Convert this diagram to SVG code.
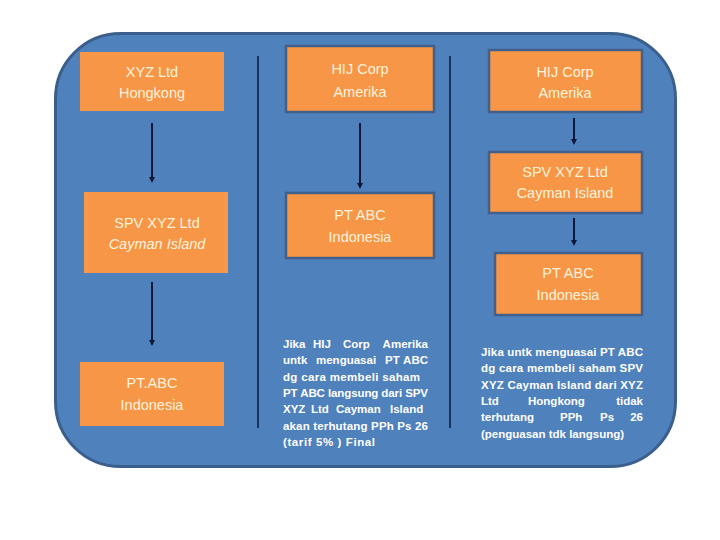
<svg xmlns="http://www.w3.org/2000/svg" width="720" height="540" viewBox="0 0 720 540">
<defs>
<style>
.bg{fill:#4f81bd;stroke:#3b5f8c;stroke-width:3}
.box{fill:#f79646}
.bb{fill:#f79646;stroke:#41618c;stroke-width:2.5}
.lbl{font-family:"Liberation Sans",Arial,sans-serif;font-size:14.5px;fill:#fdf3dc;text-anchor:middle}
.par{font-family:"Liberation Sans",Arial,sans-serif;font-size:11.5px;font-weight:bold;fill:#ffffff}
.con{stroke:#0d1838;stroke-width:2;fill:none}
.sep{stroke:#0d1838;stroke-width:1.5;fill:none}
</style>
<marker id="ah" viewBox="0 0 6 6" refX="3" refY="3" markerWidth="3" markerHeight="3" orient="auto">
<path d="M0,0 L6,3 L0,6 z" fill="#0d1838"/>
</marker>
</defs>
<rect width="720" height="540" fill="#ffffff"/>
<rect class="bg" x="55.5" y="33.5" width="620" height="433" rx="65" ry="65"/>

<g id="connectors">
<line class="sep" x1="258" y1="56" x2="258" y2="428"/>
<line class="sep" x1="450" y1="56" x2="450" y2="428"/>
<line class="con" x1="152" y1="123" x2="152" y2="180" marker-end="url(#ah)"/>
<line class="con" x1="152" y1="282" x2="152" y2="343" marker-end="url(#ah)"/>
<line class="con" x1="360" y1="123" x2="360" y2="186" marker-end="url(#ah)"/>
<line class="con" x1="574" y1="118" x2="574" y2="142" marker-end="url(#ah)"/>
<line class="con" x1="574" y1="218" x2="574" y2="243" marker-end="url(#ah)"/>
</g>

<g id="n-xyz-hk">
<rect class="box" x="80" y="52" width="144" height="59"/>
<text class="lbl" x="152" y="77">XYZ Ltd</text>
<text class="lbl" x="152" y="98">Hongkong</text>
</g>
<g id="n-spv-left">
<rect class="box" x="84" y="192" width="144" height="81"/>
<text class="lbl" x="157" y="228">SPV XYZ Ltd</text>
<text class="lbl" x="157" y="249" font-style="italic">Cayman Island</text>
</g>
<g id="n-ptabc-left">
<rect class="box" x="80" y="362" width="144" height="64"/>
<text class="lbl" x="152" y="388">PT.ABC</text>
<text class="lbl" x="152" y="410">Indonesia</text>
</g>

<g id="n-hij-mid">
<rect class="bb" x="286" y="46" width="148" height="66"/>
<text class="lbl" x="360" y="74">HIJ Corp</text>
<text class="lbl" x="360" y="97">Amerika</text>
</g>
<g id="n-ptabc-mid">
<rect class="bb" x="286" y="193" width="148" height="65"/>
<text class="lbl" x="360" y="220">PT ABC</text>
<text class="lbl" x="360" y="242">Indonesia</text>
</g>

<g id="n-hij-right">
<rect class="bb" x="489" y="50" width="153" height="62"/>
<text class="lbl" x="565" y="77">HIJ Corp</text>
<text class="lbl" x="565" y="98">Amerika</text>
</g>
<g id="n-spv-right">
<rect class="bb" x="489" y="152" width="153" height="61"/>
<text class="lbl" x="565" y="177">SPV XYZ Ltd</text>
<text class="lbl" x="565" y="198">Cayman Island</text>
</g>
<g id="n-ptabc-right">
<rect class="bb" x="495" y="253" width="147" height="62"/>
<text class="lbl" x="568" y="278">PT ABC</text>
<text class="lbl" x="568" y="300">Indonesia</text>
</g>

<g id="note-mid" class="par">
<text x="283" y="348">Jika</text><text x="313" y="348">HIJ</text><text x="343" y="348">Corp</text><text x="428" y="348" text-anchor="end">Amerika</text>
<text x="283" y="364">untk</text><text x="316" y="364">menguasai</text><text x="385" y="364">PT</text><text x="428" y="364" text-anchor="end">ABC</text>
<text x="283" y="381" textLength="137" lengthAdjust="spacing">dg cara membeli saham</text>
<text x="283" y="397" textLength="145" lengthAdjust="spacing">PT ABC langsung dari SPV</text>
<text x="283" y="413">XYZ</text><text x="311" y="413">Ltd</text><text x="336" y="413">Cayman</text><text x="390" y="413">Island</text>
<text x="283" y="430" textLength="145" lengthAdjust="spacing">akan terhutang PPh Ps 26</text>
<text x="283" y="446" textLength="92" lengthAdjust="spacing">(tarif 5% ) Final</text>
</g>

<g id="note-right" class="par">
<text x="481" y="356" textLength="162" lengthAdjust="spacing">Jika untk menguasai PT ABC</text>
<text x="481" y="372" textLength="162" lengthAdjust="spacing">dg cara membeli saham SPV</text>
<text x="481" y="389" textLength="162" lengthAdjust="spacing">XYZ Cayman  Island dari XYZ</text>
<text x="481" y="405">Ltd</text><text x="528" y="405">Hongkong</text><text x="643" y="405" text-anchor="end">tidak</text>
<text x="481" y="421">terhutang</text><text x="560" y="421">PPh</text><text x="600" y="421">Ps</text><text x="643" y="421" text-anchor="end">26</text>
<text x="481" y="438">(penguasan tdk langsung)</text>
</g>
</svg>
